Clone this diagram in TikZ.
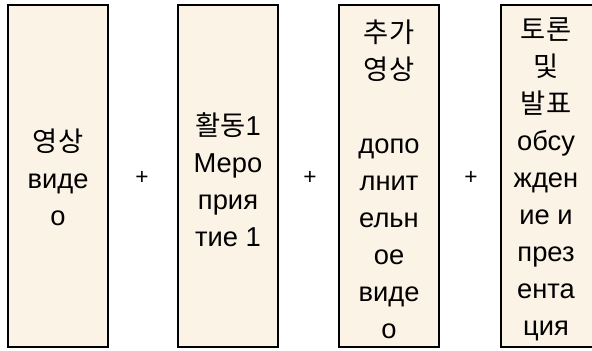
\documentclass[tikz,border=0pt]{standalone}
\usepackage{fontspec}
\setmainfont{Liberation Sans}
\newfontfamily\kr{Noto Sans CJK KR}
\definecolor{boxfill}{HTML}{FCF3E7}
\begin{document}
\begin{tikzpicture}[x=0.75pt,y=-0.75pt,
  panel/.style={draw=black,line width=0.8pt,fill=boxfill},
  txt/.style={align=center,font=\fontsize{20.5pt}{27.75pt}\selectfont,inner sep=0pt},
  plus/.style={font=\fontsize{17pt}{20pt}\selectfont,inner sep=0pt}]
\useasboundingbox (0,0) rectangle (592,350);
\clip (0,0) rectangle (592,350);
\fill[white] (0,0) rectangle (592,350);
\draw[panel] (8,5) rectangle (108,347);
\draw[panel] (178,5) rectangle (278,347);
\draw[panel] (339,5) rectangle (439,347);
\draw[panel] (501,5) rectangle (601,347);
\node[txt] (t1) at (58,177) {{\kr 영상}\\виде\\о};
\node[txt] (t2) at (228,180) {{\kr 활동}1\\Меро\\прия\\тие 1};
\node[txt] (t3) at (389,179) {{\kr 추가}\\{\kr 영상}\\[27.75pt]допо\\лнит\\ельн\\ое\\виде\\о};
\node[txt] (t4) at (546,179) {{\kr 토론}\\{\kr 및}\\{\kr 발표}\\обсу\\жден\\ие и\\през\\ента\\ция};
\node[plus] (p1) at (142,178) {+};
\node[plus] (p2) at (310,178) {+};
\node[plus] (p3) at (471,178) {+};
\end{tikzpicture}
\end{document}
